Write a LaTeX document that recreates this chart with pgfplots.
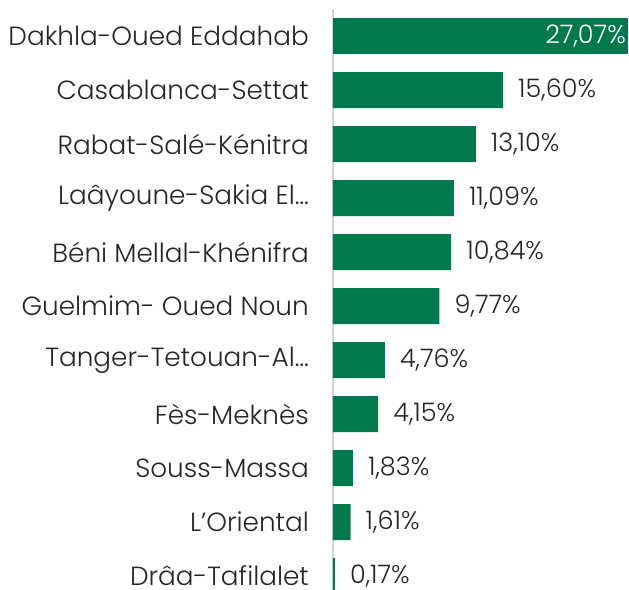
\documentclass[border=0pt]{standalone}
\usepackage{fontspec}
\setmainfont{Poppins}[UprightFont={* Light}]
\usepackage{pgfplots}
\pgfplotsset{compat=1.18}
\definecolor{bargreen}{HTML}{007A4D}
\definecolor{txt}{HTML}{262626}
\begin{document}
\begin{tikzpicture}
\begin{axis}[
  at={(0,0)}, anchor=south west,
  scale only axis,
  width=295pt, height=580pt,
  xbar, bar width=36pt, bar shift=0pt,
  xmin=0, xmax=27.07,
  ymin=-0.5, ymax=10.24,
  y dir=reverse,
  axis y line*=left,
  axis x line=none,
  axis line style={-, draw=black!18, line width=1.2pt},
  ytick={0,...,10},
  yticklabels={Dakhla-Oued Eddahab,Casablanca-Settat,Rabat-Salé-Kénitra,Laâyoune-Sakia El…,Béni Mellal-Khénifra,Guelmim- Oued Noun,Tanger-Tetouan-Al…,Fès-Meknès,Souss-Massa,L’Oriental,Drâa-Tafilalet},
  major tick length=0pt,
  yticklabel style={font=\fontsize{26.3}{30}\selectfont, text=txt, inner sep=0pt},
  tick label style={xshift=-24pt},
  /pgf/number format/.cd, fixed, fixed zerofill, precision=2, use comma, assume math mode=true,
  /pgfplots/.cd,
  nodes near coords={\pgfmathprintnumber{\pgfplotspointmeta}\%},
  every node near coord/.append style={font=\fontsize{25.5}{30}\selectfont, text=txt, inner sep=0pt, xshift=15pt},
  clip=false,
]
\addplot[fill=bargreen, draw=none] coordinates {
(15.60,1) (13.10,2) (11.09,3) (10.84,4) (9.77,5) (4.76,6) (4.15,7) (1.83,8) (1.61,9) (0.17,10)};
\addplot[fill=bargreen, draw=none,
  nodes near coords align={left},
  every node near coord/.append style={text=white, xshift=-17pt}] coordinates {(27.07,0)};
\end{axis}
\pgfresetboundingbox
\path (-333pt,0pt) rectangle (296pt,589pt);
\end{tikzpicture}
\end{document}
